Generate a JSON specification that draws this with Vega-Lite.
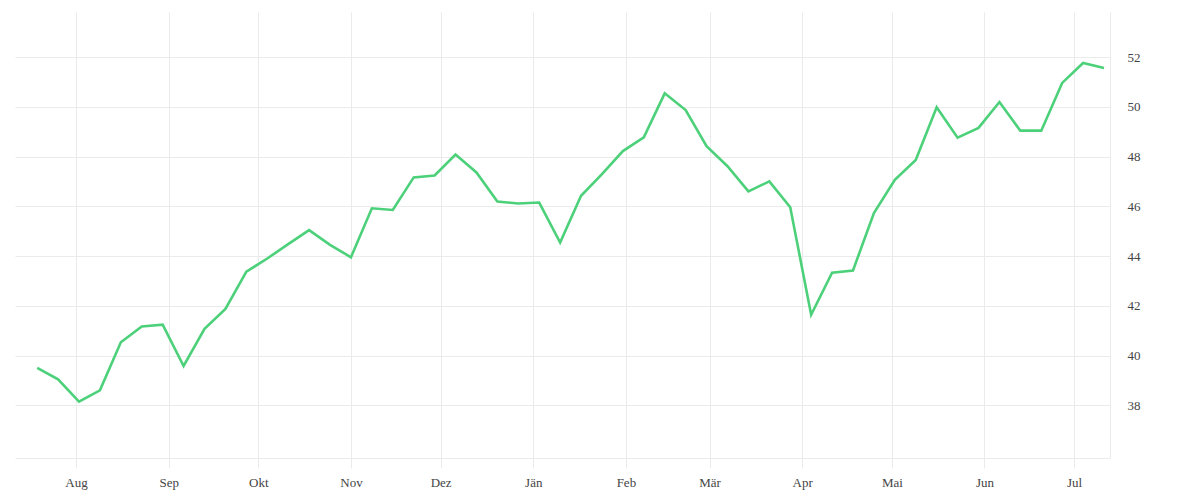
{
  "$schema": "https://vega.github.io/schema/vega-lite/v6.json",
  "width": 1095,
  "height": 446,
  "padding": {"left": 15, "top": 12, "right": 90, "bottom": 42},
  "autosize": {"type": "none"},
  "background": "white",
  "data": {
    "values": [
      {"date": "2020-07-19", "value": 39.5},
      {"date": "2020-07-26", "value": 39.04},
      {"date": "2020-08-02", "value": 38.15},
      {"date": "2020-08-09", "value": 38.6},
      {"date": "2020-08-16", "value": 40.53},
      {"date": "2020-08-23", "value": 41.17},
      {"date": "2020-08-30", "value": 41.24},
      {"date": "2020-09-06", "value": 39.58},
      {"date": "2020-09-13", "value": 41.07},
      {"date": "2020-09-20", "value": 41.87},
      {"date": "2020-09-27", "value": 43.37},
      {"date": "2020-10-04", "value": 43.9},
      {"date": "2020-10-11", "value": 44.48},
      {"date": "2020-10-18", "value": 45.04},
      {"date": "2020-10-25", "value": 44.45},
      {"date": "2020-11-01", "value": 43.95},
      {"date": "2020-11-08", "value": 45.92},
      {"date": "2020-11-15", "value": 45.85},
      {"date": "2020-11-22", "value": 47.16},
      {"date": "2020-11-29", "value": 47.24},
      {"date": "2020-12-06", "value": 48.08},
      {"date": "2020-12-13", "value": 47.36},
      {"date": "2020-12-20", "value": 46.19},
      {"date": "2020-12-27", "value": 46.11},
      {"date": "2021-01-03", "value": 46.15},
      {"date": "2021-01-10", "value": 44.54},
      {"date": "2021-01-17", "value": 46.42},
      {"date": "2021-01-24", "value": 47.29},
      {"date": "2021-01-31", "value": 48.22},
      {"date": "2021-02-07", "value": 48.77},
      {"date": "2021-02-14", "value": 50.54},
      {"date": "2021-02-21", "value": 49.87},
      {"date": "2021-02-28", "value": 48.42},
      {"date": "2021-03-07", "value": 47.61},
      {"date": "2021-03-14", "value": 46.6},
      {"date": "2021-03-21", "value": 47.0},
      {"date": "2021-03-28", "value": 45.96},
      {"date": "2021-04-04", "value": 41.64},
      {"date": "2021-04-11", "value": 43.33},
      {"date": "2021-04-18", "value": 43.42},
      {"date": "2021-04-25", "value": 45.73},
      {"date": "2021-05-02", "value": 47.06},
      {"date": "2021-05-09", "value": 47.86},
      {"date": "2021-05-16", "value": 49.98},
      {"date": "2021-05-23", "value": 48.76},
      {"date": "2021-05-30", "value": 49.15},
      {"date": "2021-06-06", "value": 50.19},
      {"date": "2021-06-13", "value": 49.04},
      {"date": "2021-06-20", "value": 49.04},
      {"date": "2021-06-27", "value": 50.96},
      {"date": "2021-07-04", "value": 51.76},
      {"date": "2021-07-11", "value": 51.56}
    ]
  },
  "mark": {"type": "line", "color": "#4cd17a", "strokeWidth": 2.6, "strokeJoin": "miter"},
  "encoding": {
    "x": {
      "field": "date",
      "type": "temporal",
      "title": null,
      "scale": {"domain": ["2020-07-11T14:00:00", "2021-07-13T00:00:00"], "nice": false},
      "axis": {
        "tickCount": {"interval": "month", "step": 1},
        "labelExpr": "['Jän','Feb','Mär','Apr','Mai','Jun','Jul','Aug','Sep','Okt','Nov','Dez'][month(datum.value)]",
        "grid": true,
        "gridColor": "#ebebeb",
        "domainColor": "#ebebeb",
        "tickColor": "#ebebeb",
        "tickSize": 10,
        "labelPadding": 8,
        "labelFlush": false,
        "labelOverlap": false
      }
    },
    "y": {
      "field": "value",
      "type": "quantitative",
      "title": null,
      "scale": {"domain": [35.88, 53.81], "nice": false, "zero": false},
      "axis": {
        "orient": "right",
        "values": [38, 40, 42, 44, 46, 48, 50, 52],
        "grid": true,
        "gridColor": "#ebebeb",
        "domainColor": "#ebebeb",
        "ticks": false,
        "labelPadding": 17,
        "labelAlign": "left"
      }
    }
  },
  "config": {
    "view": {"stroke": null},
    "axis": {
      "labelFont": "Liberation Serif",
      "labelFontSize": 13,
      "labelColor": "#444444"
    }
  }
}
